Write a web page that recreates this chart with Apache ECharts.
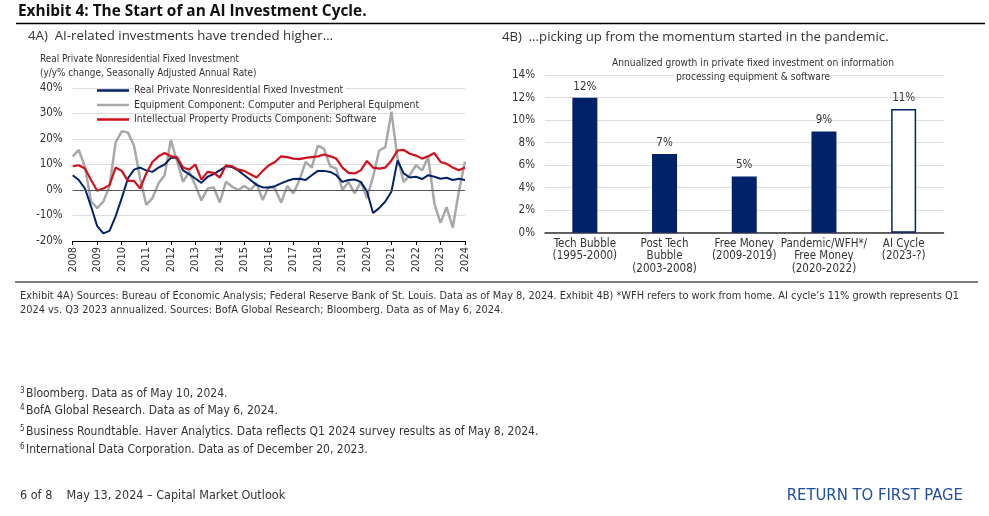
<!DOCTYPE html>
<html>
<head>
<meta charset="utf-8">
<script src="https://cdn.jsdelivr.net/npm/echarts@6/dist/echarts.min.js"></script>
<style>
html,body{margin:0;padding:0;background:#fff;}
#c{width:989px;height:516px;}
</style>
</head>
<body>
<div id="c"></div>
<script>
// ---------- Data ----------
var years = ['2008','2009','2010','2011','2012','2013','2014','2015','2016','2017','2018','2019','2020','2021','2022','2023','2024'];
var quarters = ['Q1','Q2','Q3','Q4'];

var realNonres = [5.8,3.9,0.6,-6.5, -14.2,-17,-16,-10.3, -3.2,4.5,8,8.8, 7.7,7.1,8.8,10,
  12.6,12.6,7.7,6.2, 4.5,2.8,5.2,6.2, 7.7,9.3,9,7.7, 5.8,3.9,2,1,
  1,1.5,2.6,3.6, 4.3,4.4,3.9,5.8, 7.5,7.5,7.1,5.8, 3.2,3.9,4.1,3.2,
  -0.5,-9,-7.1,-4.5, -0.6,11.6,6.5,4.9, 5.2,4.3,5.8,5.2, 4.4,4.8,3.9,4.4, 3.9];
var equipComputer = [13.2,15.7,9,-4.5, -7.1,-4.5,1.3,18.7, 23,22.6,17.4,4.5, -5.8,-3.2,2.6,5.8,
  19.6,11.6,3.2,7.1, 1.9,-4.1,0.6,1, -4.9,3.2,1.3,0, 1.5,0,2.6,-3.9,
  1.3,0.6,-4.9,1.5, -1.3,3.9,11,8.8, 17.4,16.1,9.3,8.4, 0,3.2,-1.3,3.2,
  -3.2,5.2,15.5,16.8, 30.7,12.3,3.2,5.8, 9.7,7.7,12.9,-5.2, -12.9,-6.7,-14.8,-0.6, 11.2];
var ipSoftware = [9.3,9.7,8.4,3.9, -0.3,0.6,1.9,8.8, 7.5,3.6,3.6,0.6, 6.5,11,13.2,14.5,
  13.2,12.9,8.8,8, 10,4.1,7.1,6.7, 4.9,9.7,9.3,8, 7.5,6.2,4.9,7.5,
  9.7,11,13.2,12.9, 12.3,12.1,12.6,12.9, 13.2,13.9,13.2,12.3, 8.8,6.7,6.5,7.7,
  11.4,8.8,8.4,8.8, 11.6,15.5,15.7,14.2, 13.5,12.3,13.2,14.5, 11,10.3,8.8,7.7, 8.8];

var seriesNames = ['Real Private Nonresidential Fixed Investment',
  'Equipment Component: Computer and Peripheral Equipment',
  'Intellectual Property Products Component: Software'];

var cycleCats = ['Tech Bubble\n(1995-2000)', 'Post Tech\nBubble\n(2003-2008)', 'Free Money\n(2009-2019)',
  'Pandemic/WFH*/\nFree Money\n(2020-2022)', 'AI Cycle\n(2023-?)'];
var cycleGrowth = [12, 7, 5, 9, 11];

// build quarterly categories 2008Q1..2024Q1
var qCats = [];
years.forEach(function (y) { quarters.forEach(function (q) { qCats.push(y + q); }); });
qCats = qCats.slice(0, realNonres.length);

// ---------- Styles ----------
var NAVY = '#012169', RED = '#d0111b', GRAY = '#a8a8a8', TXT = '#333333';
var NARROW = "'Liberation Sans Narrow','DejaVu Sans Condensed',sans-serif";
var OPEN = "'Open Sans','Noto Sans',sans-serif";

var chart = echarts.init(document.getElementById('c'), null, {renderer: 'canvas'});

function gtext(x, y, s, opt) {
  opt = opt || {};
  var st = {
    text: s, fill: opt.color || TXT,
    font: (opt.weight || 'normal') + ' ' + (opt.size || 11) + 'px ' + (opt.family || NARROW),
    textAlign: opt.align || 'left', textVerticalAlign: 'middle'
  };
  if (opt.bg) { st.backgroundColor = opt.bg; st.padding = [0, 3]; }
  return {type: 'text', x: x, y: y, z: 100, silent: true, style: st};
}
function hline(x1, x2, y, w, c) {
  return {type: 'line', silent: true, z: 100, shape: {x1: x1, y1: y, x2: x2, y2: y}, style: {stroke: c || '#000', lineWidth: w || 1}};
}

var graphics = [
  gtext(18, 12, 'Exhibit 4: The Start of an AI Investment Cycle.', {weight: 'bold', size: 15.4, family: OPEN, color: '#111'}),
  hline(16, 985, 23.5, 1.5, '#000'),
  gtext(28, 36, '4A)  AI-related investments have trended higher…', {size: 13.25, family: OPEN}),
  gtext(502, 37, '4B)  …picking up from the momentum started in the pandemic.', {size: 13.2, family: OPEN}),
  gtext(40, 59.5, 'Real Private Nonresidential Fixed Investment', {size: 9.9}),
  gtext(40, 73.5, '(y/y% change, Seasonally Adjusted Annual Rate)', {size: 9.9}),
  gtext(753, 63, 'Annualized growth in private fixed investment on information', {size: 10.2, align: 'center'}),
  gtext(753, 77.5, 'processing equipment & software', {size: 10.2, align: 'center', bg: '#fff'}),
  hline(15, 978, 282, 1.2, '#000'),
  gtext(20, 296, 'Exhibit 4A) Sources: Bureau of Economic Analysis; Federal Reserve Bank of St. Louis. Data as of May 8, 2024. Exhibit 4B) *WFH refers to work from home. AI cycle\u2019s 11% growth represents Q1', {size: 10.9}),
  gtext(20, 310, '2024 vs. Q3 2023 annualized. Sources: BofA Global Research; Bloomberg. Data as of May 6, 2024.', {size: 10.9}),
  gtext(20, 391, '3', {size: 8}),
  gtext(26, 394, 'Bloomberg. Data as of May 10, 2024.', {size: 12}),
  gtext(20, 408, '4', {size: 8}),
  gtext(26, 411, 'BofA Global Research. Data as of May 6, 2024.', {size: 12}),
  gtext(20, 429, '5', {size: 8}),
  gtext(26, 432, 'Business Roundtable. Haver Analytics. Data reflects Q1 2024 survey results as of May 8, 2024.', {size: 12}),
  gtext(20, 447, '6', {size: 8}),
  gtext(26, 450, 'International Data Corporation. Data as of December 20, 2023.', {size: 12}),
  gtext(20, 496, '6 of 8    May 13, 2024 \u2013 Capital Market Outlook', {size: 12.5}),
  gtext(963, 496, 'RETURN TO FIRST PAGE', {size: 16.5, color: '#1f4ea0', align: 'right'})
];

var option = {
  animation: false,
  textStyle: {fontFamily: NARROW},
  graphic: graphics,
  legend: {
    left: 97, top: 85.5, orient: 'vertical', itemGap: 4.5, padding: 0,
    itemWidth: 32, itemHeight: 2.5, icon: 'rect',
    data: seriesNames,
    textStyle: {fontFamily: NARROW, fontSize: 10.4, color: TXT, backgroundColor: '#fff', padding: [0, 2, 0, 0]},
    selectedMode: false
  },
  grid: [
    {left: 72.7, top: 88, width: 392.3, height: 153},
    {left: 545, top: 75.2, width: 398.5, height: 157.5}
  ],
  xAxis: [
    {
      gridIndex: 0, type: 'category', data: qCats, boundaryGap: false,
      axisLine: {onZero: false, lineStyle: {color: '#000', width: 1}},
      axisTick: {interval: 3, length: 4, lineStyle: {color: '#000'}},
      axisLabel: {
        interval: 3, rotate: 90, margin: 6, color: TXT, fontSize: 11, fontFamily: NARROW,
        formatter: function (v) { return v.slice(0, 4); }
      },
      splitLine: {show: false}
    },
    {
      gridIndex: 1, type: 'category', data: cycleCats,
      axisLine: {lineStyle: {color: '#333', width: 1.5}},
      axisTick: {show: false},
      axisLabel: {color: TXT, fontSize: 11.5, fontFamily: NARROW, lineHeight: 12.5, margin: 5, interval: 0}
    }
  ],
  yAxis: [
    {
      gridIndex: 0, type: 'value', min: -20, max: 40, interval: 10,
      axisLine: {show: false}, axisTick: {show: false},
      axisLabel: {formatter: '{value}%', color: TXT, fontSize: 11.5, fontFamily: NARROW, margin: 10},
      splitLine: {lineStyle: {color: '#dcdcdc', width: 1}}
    },
    {
      gridIndex: 1, type: 'value', min: 0, max: 14, interval: 2,
      axisLine: {show: false}, axisTick: {show: false},
      axisLabel: {formatter: '{value}%', color: TXT, fontSize: 11.5, fontFamily: NARROW, margin: 10},
      splitLine: {lineStyle: {color: '#dcdcdc', width: 1}}
    }
  ],
  series: [
    {
      name: seriesNames[1], type: 'line', xAxisIndex: 0, yAxisIndex: 0,
      data: equipComputer, symbol: 'none', smooth: false, z: 2,
      lineStyle: {color: GRAY, width: 2.5}, itemStyle: {color: GRAY},
      markLine: {
        silent: true, symbol: 'none', label: {show: false},
        lineStyle: {color: '#555', width: 1, type: 'solid'},
        data: [{yAxis: 0}]
      }
    },
    {
      name: seriesNames[0], type: 'line', xAxisIndex: 0, yAxisIndex: 0,
      data: realNonres, symbol: 'none', z: 3,
      lineStyle: {color: NAVY, width: 2}, itemStyle: {color: NAVY}
    },
    {
      name: seriesNames[2], type: 'line', xAxisIndex: 0, yAxisIndex: 0,
      data: ipSoftware, symbol: 'none', z: 4,
      lineStyle: {color: RED, width: 2.2}, itemStyle: {color: RED}
    },
    {
      type: 'bar', xAxisIndex: 1, yAxisIndex: 1, barWidth: 25,
      data: cycleGrowth.map(function (v, i) {
        return i === cycleGrowth.length - 1
          ? {value: v, itemStyle: {color: '#fff', borderColor: NAVY, borderWidth: 1.5}}
          : {value: v, itemStyle: {color: NAVY}};
      }),
      label: {show: true, position: 'top', distance: 5, formatter: '{c}%', color: TXT, fontSize: 11.5, fontFamily: NARROW}
    }
  ]
};
chart.setOption(option);
</script>
</body>
</html>
